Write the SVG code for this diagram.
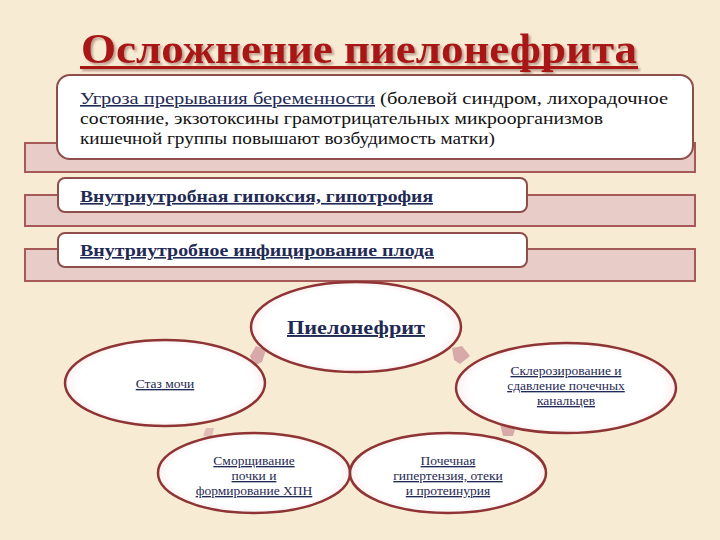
<svg xmlns="http://www.w3.org/2000/svg" width="720" height="540" viewBox="0 0 720 540">
<defs>
<style>
.bg{fill:#F8EBD4}
.band{fill:#E7CCC8;stroke:#A65A58;stroke-width:2}
.box{fill:#FFFFFF;stroke:#8E4E4C;stroke-width:2}
.ell{fill:url(#eg);stroke:#8E3434;stroke-width:2.5}
.t{font-family:"Liberation Serif","DejaVu Serif",serif;}
.link{fill:#1F2A55;text-decoration:underline}
.plain{fill:#111111}
.et{font-family:"Liberation Serif","DejaVu Serif",serif;font-size:13.5px;fill:#1F2A55;text-decoration:underline;text-anchor:middle}
.arr{fill:#D7A9A9}
</style>
<radialGradient id="eg" cx="50%" cy="50%" r="50%">
<stop offset="0.88" stop-color="#FFFFFF"/>
<stop offset="1" stop-color="#FDF0F0"/>
</radialGradient>
<filter id="sh" x="-5%" y="-20%" width="110%" height="150%">
<feDropShadow dx="2" dy="2" stdDeviation="1" flood-color="#5a1a1a" flood-opacity="0.4"/>
</filter>
</defs>
<rect class="bg" x="0" y="0" width="720" height="540"/>

<g id="title" filter="url(#sh)">
<text class="t" x="81" y="63" font-size="42" font-weight="bold" fill="#A81414" textLength="556" lengthAdjust="spacingAndGlyphs">Осложнение пиелонефрита</text>
<rect x="80" y="66" width="558" height="3" fill="#A81414"/>
</g>

<g id="item1">
<rect class="band" x="25" y="143" width="670" height="29"/>
<rect class="box" x="57" y="75" width="636" height="84" rx="13"/>
<text class="t" font-size="16" x="80" y="104" textLength="588" lengthAdjust="spacingAndGlyphs"><tspan class="link">Угроза прерывания беременности</tspan><tspan class="plain"> (болевой синдром, лихорадочное</tspan></text>
<text class="t plain" font-size="16" x="80" y="124" textLength="523" lengthAdjust="spacingAndGlyphs">состояние, экзотоксины грамотрицательных микроорганизмов</text>
<text class="t plain" font-size="16" x="80" y="144" textLength="415" lengthAdjust="spacingAndGlyphs">кишечной группы повышают возбудимость матки)</text>
</g>

<g id="item2">
<rect class="band" x="25" y="195" width="670" height="31"/>
<rect class="box" x="58" y="178" width="469" height="34" rx="7"/>
<text class="t link" font-size="16" font-weight="bold" x="80" y="202" textLength="353" lengthAdjust="spacingAndGlyphs">Внутриутробная гипоксия, гипотрофия</text>
</g>

<g id="item3">
<rect class="band" x="25" y="249" width="670" height="32"/>
<rect class="box" x="58" y="233" width="469" height="34" rx="7"/>
<text class="t link" font-size="16" font-weight="bold" x="80" y="256" textLength="354" lengthAdjust="spacingAndGlyphs">Внутриутробное инфицирование плода</text>
</g>

<g id="connectors">
<polygon class="arr" points="250,356 256,346 266,350 262,362 254,366"/>
<polygon class="arr" points="452,348 462,346 470,356 460,364 454,360"/>
<polygon class="arr" points="500,424 508,419 516,426 513,436 503,436"/>
<polygon class="arr" points="203,436 206,428 214,428 212,437" opacity="0.7"/>
</g>

<g id="n-staz">
<ellipse class="ell" cx="165" cy="383" rx="100" ry="43"/>
<text class="et" x="165" y="388">Стаз мочи</text>
</g>

<g id="n-skler">
<ellipse class="ell" cx="566" cy="388" rx="110" ry="45"/>
<text class="et" x="566" y="375">Склерозирование и</text>
<text class="et" x="566" y="390">сдавление почечных</text>
<text class="et" x="566" y="405">канальцев</text>
</g>

<g id="n-smor">
<ellipse class="ell" cx="254" cy="473" rx="96" ry="40"/>
<text class="et" x="254" y="465">Сморщивание</text>
<text class="et" x="254" y="480">почки и</text>
<text class="et" x="254" y="495">формирование ХПН</text>
</g>

<g id="n-poch">
<ellipse class="ell" cx="448" cy="473" rx="98" ry="40"/>
<text class="et" x="448" y="465">Почечная</text>
<text class="et" x="448" y="480">гипертензия, отеки</text>
<text class="et" x="448" y="495">и протеинурия</text>
</g>

<g id="n-pielo">
<ellipse class="ell" cx="356" cy="327" rx="105" ry="45"/>
<text class="t link" x="356" y="334" font-size="19" font-weight="bold" text-anchor="middle" textLength="138" lengthAdjust="spacingAndGlyphs">Пиелонефрит</text>
</g>
</svg>
